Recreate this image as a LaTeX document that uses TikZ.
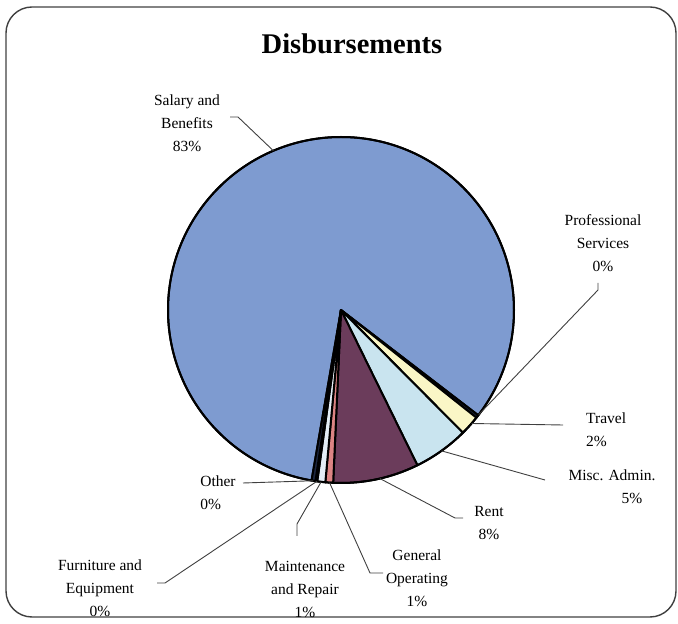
\documentclass[tikz,border=0pt]{standalone}
\usepackage{fontspec}
\setmainfont{Liberation Serif}
\definecolor{salblue}{HTML}{7E9BD0}
\definecolor{navyslc}{HTML}{1E2840}
\definecolor{travyel}{HTML}{FAF6C6}
\definecolor{miscblue}{HTML}{C9E4EF}
\definecolor{rentred}{HTML}{6B3C5B}
\definecolor{genpink}{HTML}{DC8484}
\definecolor{mntwhite}{HTML}{E4EEF7}
\tikzset{
  slice/.style={draw=black, line width=2pt, line join=round},
  leader/.style={draw=black!75, line width=0.9pt},
  lbl/.style={font=\fontsize{15.5}{23}\selectfont, align=center, inner sep=0pt}
}
\begin{document}
\begin{tikzpicture}[x=1pt,y=1pt]
  \useasboundingbox (0,0) rectangle (678,624);
  \draw[line width=1.4pt, black!75, rounded corners=26pt] (6,7) rectangle (676,617);
  \node[font=\bfseries\fontsize{28.5}{32}\selectfont] (title) at (352,580) {Disbursements};
  % pie
  \coordinate (c) at (341,314);
  \foreach \from/\to/\col in {-37.5/260.2/salblue, -38.5/-37.5/navyslc, -45.2/-38.5/travyel,
      -63.8/-45.2/miscblue, -92.6/-63.8/rentred, -95.2/-92.6/genpink,
      -97.9/-95.2/mntwhite, -98.5/-97.9/navyslc, -99.8/-98.5/navyslc}
    \filldraw[slice, fill=\col] (c) -- ([shift={(\from:173)}]c) arc[start angle=\from, end angle=\to, radius=173] -- cycle;
  \draw[slice] (c) circle[radius=173];
  % points on the rim
  \coordinate (salE) at ([shift={(113:173)}]c);
  \coordinate (proE) at ([shift={(-37.2:173)}]c);
  \coordinate (traE) at ([shift={(-41:173)}]c);
  \coordinate (misE) at ([shift={(-54.5:173)}]c);
  \coordinate (renE) at ([shift={(-77:173)}]c);
  \coordinate (genE) at ([shift={(-93.8:173)}]c);
  \coordinate (mntE) at ([shift={(-96.6:173)}]c);
  \coordinate (furE) at ([shift={(-98.0:173)}]c);
  \coordinate (othE) at ([shift={(-99.2:173)}]c);
  % labels
  \node[lbl] (sal) at (187,501) {Salary and\\Benefits\\83\%};
  \node[lbl] (pro) at (603,381) {Professional\\Services\\0\%};
  \node[lbl, anchor=west, align=left] (tra) at (586,194) {Travel\\2\%};
  \node[lbl] (mis) at (612,137) {Misc. Admin.\\\hspace*{40pt}5\%};
  \node[lbl] (ren) at (489,101) {Rent\\8\%};
  \node[lbl] (gen) at (417,46) {General\\Operating\\1\%};
  \node[lbl] (mnt) at (305,35) {Maintenance\\and Repair\\1\%};
  \node[lbl] (fur) at (100,36) {Furniture and\\Equipment\\0\%};
  \node[lbl, align=left] (oth) at (218,131) {Other\\0\%};
  % leaders
  \coordinate (salL) at (230,507);
  \coordinate (proL) at (598,341);
  \coordinate (traL) at (563,199);
  \coordinate (misL) at (545,144);
  \coordinate (renL) at (463,106);
  \coordinate (genL) at (383,51);
  \coordinate (mntL) at (297,88);
  \coordinate (furL) at (157,41);
  \coordinate (othL) at (243,141);
  \draw[leader] (salL) -- ++(8,0) -- (salE);
  \draw[leader] (proL) -- ++(0,-7) -- (proE);
  \draw[leader] (traL) -- (traE);
  \draw[leader] (misL) -- (misE);
  \draw[leader] (renL) -- ++(-8,0) -- (renE);
  \draw[leader] (genL) -- ++(-13,0) -- (genE);
  \draw[leader] (mntL) -- ++(0,12) -- (mntE);
  \draw[leader] (furL) -- ++(8,0) -- (furE);
  \draw[leader] (othL) -- (othE);
\end{tikzpicture}
\end{document}
